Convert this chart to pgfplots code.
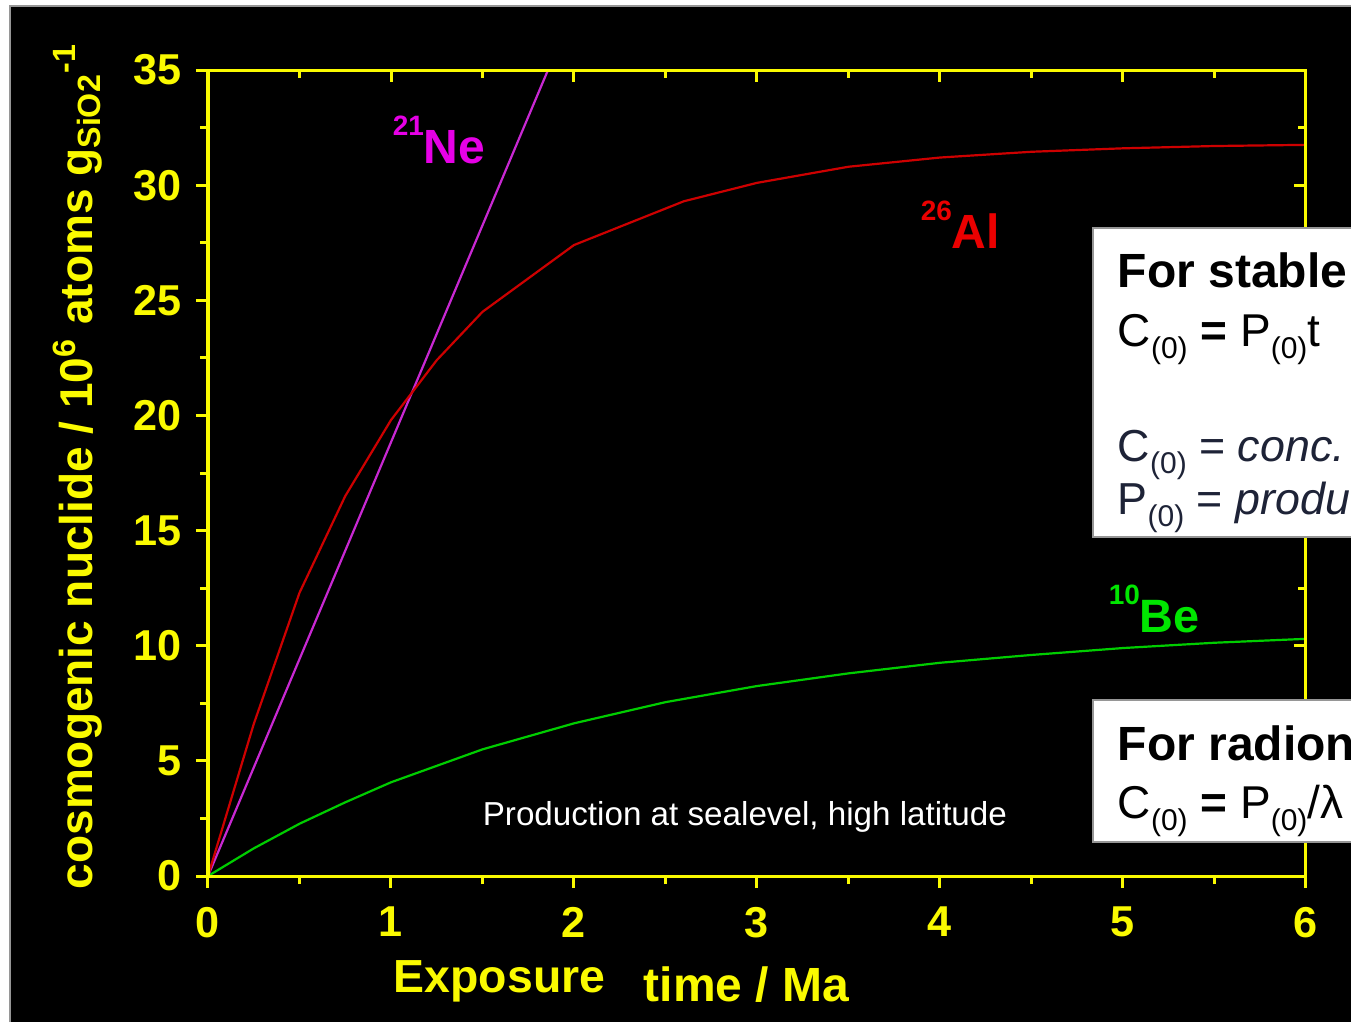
\documentclass[border=0pt]{standalone}
\usepackage{fontspec}
\setmainfont{Liberation Sans}
\usepackage{pgfplots}
\pgfplotsset{compat=1.18}
\definecolor{axyellow}{RGB}{250,250,0}
\definecolor{nemag}{RGB}{200,40,210}
\definecolor{nelab}{RGB}{230,0,230}
\definecolor{alred}{RGB}{205,0,0}
\definecolor{allab}{RGB}{235,0,0}
\definecolor{begreen}{RGB}{0,205,0}
\definecolor{belab}{RGB}{0,230,0}
\definecolor{boxtext}{RGB}{30,35,55}
\definecolor{bordergray}{RGB}{150,150,150}
\newcommand{\mysub}[1]{\raisebox{-0.28em}{\fontsize{7.5}{8}\selectfont #1}}
\newcommand{\mysup}[1]{\raisebox{7pt}{\fontsize{7}{8}\selectfont #1}}

\pgfplotstableread{
t c
0 0
0.25 6.6
0.5 12.3
0.75 16.5
1 19.8
1.25 22.4
1.5 24.5
2 27.4
2.6 29.3
3 30.1
3.5 30.8
4 31.2
4.5 31.45
5 31.6
5.5 31.7
6 31.75
}\altable
\pgfplotstableread{
t c
0 0
0.25 1.2
0.5 2.27
0.75 3.2
1 4.07
1.5 5.5
2 6.63
2.5 7.55
3 8.25
3.5 8.8
4 9.26
4.5 9.6
5 9.9
5.5 10.13
6 10.3
}\betable

\begin{document}
\begin{tikzpicture}[x=0.25pt,y=-0.25pt]
\useasboundingbox (0,0) rectangle (1351,1022);
\fill[white] (0,0) rectangle (1351,1022);
\fill[black] (10,6) rectangle (1351,1022);
\draw[bordergray, line width=0.4pt] (10,1022) -- (10,6) -- (1351,6);
\clip (0,0) rectangle (1351,1022);

\begin{axis}[
  at={(52pt,-219pt)}, anchor=south west,
  scale only axis, width=274.5pt, height=201.5pt,
  xmin=0, xmax=6, ymin=0, ymax=35,
  axis line style={axyellow, line width=0.75pt},
  xtick={0,1,...,6}, ytick={0,5,...,35},
  minor x tick num=1, minor y tick num=1,
  xtick pos=left, ytick pos=left, tick align=outside,
  major tick length=3pt, minor tick length=2pt,
  tick style={axyellow, line width=0.75pt},
  tick label style={text=axyellow, font=\fontsize{10.8}{12}\selectfont\bfseries},
  xticklabel style={yshift=-1.2pt},
  /pgf/number format/assume math mode=true,
]
\addplot[nemag, line width=0.55pt] coordinates {(0,0) (1.858,35)};
\addplot[alred, line width=0.55pt] table[x=t,y=c] {\altable};
\addplot[begreen, line width=0.55pt] table[x=t,y=c] {\betable};
\end{axis}

\begin{axis}[
  at={(52pt,-219pt)}, anchor=south west,
  scale only axis, width=274.5pt, height=201.5pt,
  xmin=0, xmax=6, ymin=0, ymax=35,
  axis line style={axyellow, line width=0.75pt},
  xtick={0,1,...,6}, ytick={0,5,...,35},
  minor x tick num=1, minor y tick num=1,
  xtick pos=right, ytick pos=right, tick align=inside,
  xticklabels={}, yticklabels={},
  major tick length=3pt, minor tick length=2pt,
  tick style={axyellow, line width=0.75pt},
]
\end{axis}

% axis labels
\node[rotate=90, anchor=base west, inner sep=0, text=axyellow, font=\fontsize{11.5}{14}\selectfont\bfseries] at (93,890) {cosmogenic nuclide / 10\textsuperscript{6} atoms g\textsubscript{SiO2}\textsuperscript{-1}};
\node[anchor=base west, inner sep=0, text=axyellow, font=\fontsize{11.6}{14}\selectfont\bfseries] at (393,992) {Exposure};
\node[anchor=base west, inner sep=0, text=axyellow, font=\fontsize{12}{14}\selectfont\bfseries] at (643,1001) {time / Ma};

% curve labels
\node[anchor=base west, inner sep=0, text=nelab, font=\fontsize{12}{14}\selectfont\bfseries] at (392,163) {\mysup{21}Ne};
\node[anchor=base west, inner sep=0, text=allab, font=\fontsize{12}{14}\selectfont\bfseries] at (920,248) {\mysup{26}Al};
\node[anchor=base west, inner sep=0, text=belab, font=\fontsize{11.7}{14}\selectfont\bfseries] at (1108,632) {\mysup{10}Be};
\node[anchor=base west, inner sep=0, text=white, font=\fontsize{8.3}{10}\selectfont] at (482,825) {Production at sealevel, high latitude};

% boxes (cut off at the right edge, as in the reference)
\draw[bordergray, fill=white, line width=0.5pt] (1093,228) rectangle (1400,537);
\draw[bordergray, fill=white, line width=0.5pt] (1093,700) rectangle (1400,842);
\node[anchor=base west, inner sep=0, font=\fontsize{12}{14}\selectfont\bfseries] at (1117,287) {For stable};
\node[anchor=base west, inner sep=0, font=\fontsize{11.5}{14}\selectfont] at (1117,346) {C\mysub{(0)} \textbf{=} P\mysub{(0)}t};
\node[anchor=base west, inner sep=0, text=boxtext, font=\fontsize{11.2}{14}\selectfont] at (1117,461) {C\mysub{(0)} = \textit{conc.}};
\node[anchor=base west, inner sep=0, text=boxtext, font=\fontsize{11.2}{14}\selectfont] at (1117,514) {P\mysub{(0)} = \textit{produ}};
\node[anchor=base west, inner sep=0, font=\fontsize{12}{14}\selectfont\bfseries] at (1117,760) {For radion};
\node[anchor=base west, inner sep=0, font=\fontsize{11.5}{14}\selectfont] at (1117,818) {C\mysub{(0)} \textbf{=} P\mysub{(0)}/λ};
\end{tikzpicture}
\end{document}
